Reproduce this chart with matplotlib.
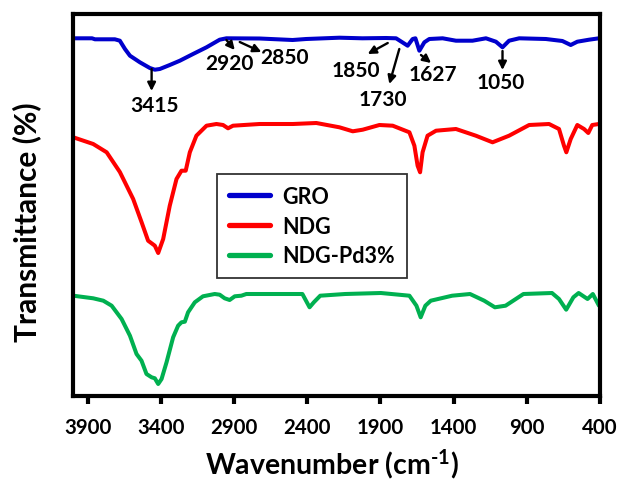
import numpy as np
import matplotlib
matplotlib.use("Agg")
import matplotlib.pyplot as plt

plt.rcParams["font.family"] = ["Lato", "DejaVu Sans"]
plt.rcParams["font.weight"] = "bold"
plt.rcParams["mathtext.fontset"] = "custom"
plt.rcParams["mathtext.rm"] = "Lato:bold"
plt.rcParams["mathtext.default"] = "rm"

# FTIR spectra, offset transmittance (arbitrary units)
gro_wn = [4000, 3870, 3850, 3714, 3680, 3645, 3611, 3543, 3475, 3441, 3407, 3339,
          3270, 3180, 3088, 2998, 2952, 2725, 2500, 2407, 2180, 2023, 1861, 1793,
          1714, 1680, 1661, 1634, 1600, 1566, 1475, 1384, 1271, 1179, 1111, 1066,
          1021, 952, 770, 657, 600, 555, 475, 407]
gro_t = [357.7, 357.7, 356.7, 356.7, 355.3, 347, 340.3, 333.7, 328, 326.3, 327, 331,
         335.3, 342, 348.7, 356.3, 357.7, 357.5, 356, 357, 358.3, 357.7, 358, 357.7,
         350.3, 357, 357.7, 345.3, 353.7, 357, 357.7, 355.3, 355.3, 357.7, 354.3, 348.7,
         355.3, 357.7, 357, 355, 351, 354.3, 356.3, 357.7]

ndg_wn = [3998, 3862, 3770, 3680, 3589, 3532, 3487, 3441, 3418, 3384, 3339, 3293,
          3259, 3230, 3202, 3157, 3088, 3020, 2975, 2941, 2907, 2725, 2498, 2338,
          2180, 2089, 2021, 1907, 1816, 1702, 1668, 1646, 1629, 1612, 1578, 1520,
          1384, 1248, 1134, 1021, 884, 748, 680, 646, 630, 600, 555, 509, 480, 453, 407]
ndg_t = [258.7, 252, 243.7, 224, 197, 174, 155.3, 150.3, 143, 157, 190.3, 217,
         225.3, 225.3, 243.7, 260.3, 270.3, 272, 271, 267.7, 270.3, 272, 272, 273,
         268.7, 264.7, 266.3, 271, 270.3, 263.7, 250.3, 230.3, 223.7, 243.7, 260.3, 265.3,
         267, 260.3, 253.7, 260.3, 271, 272, 267, 250.3, 243.7, 257, 271, 267, 263, 271, 272]

pd_wn = [3998, 3862, 3793, 3736, 3668, 3611, 3566, 3532, 3498, 3463, 3441, 3418,
         3395, 3361, 3316, 3282, 3259, 3236, 3214, 3168, 3112, 3032, 2998, 2964,
         2930, 2895, 2850, 2816, 2725, 2433, 2384, 2355, 2311, 2141, 1897, 1702,
         1654, 1625, 1593, 1556, 1410, 1288, 1191, 1118, 1045, 923, 728, 680, 631,
         582, 546, 485, 449, 407]
pd_t = [100.3, 97.7, 95.3, 90.3, 77, 60.3, 42, 35.3, 22, 18.7, 17.7, 12,
        17, 33.7, 58.7, 70.3, 73.7, 74.3, 83.7, 93.7, 99.7, 102, 101.3, 97.7,
        96, 99.7, 100.3, 102, 102, 102, 88.7, 93.7, 100.3, 102, 103, 100.3,
        90.3, 78.7, 90.3, 95.3, 100.3, 102, 95.3, 88.7, 90.3, 102, 103, 97, 86.3,
        98.7, 103, 97, 102, 90.3]

# peak labels on the GRO curve: text, arrow tail, arrow head, text position
peaks = ["3415", "2920", "2850", "1850", "1730", "1627", "1050"]
arrow_tail = [(3463, 327), (2952, 356), (2861, 354), (1850, 353), (1771, 347), (1623, 341), (1066, 345)]
arrow_head = [(3463, 305), (2895, 346), (2713, 344), (1987, 342), (1839, 312), (1554, 333), (1066, 326)]
label_pos = [(3441, 291), (2930, 333), (2555, 339), (2066, 326), (1884, 297), (1543, 322), (1077, 314)]

fig = plt.figure(figsize=(6.19, 4.81), dpi=100)
ax = fig.add_axes([73 / 619, 1 - 397 / 481, 527 / 619, 382 / 481])

lw = 2.9
ax.plot(gro_wn, gro_t, color="#0000CC", lw=lw, label="GRO", solid_capstyle="round")
ax.plot(ndg_wn, ndg_t, color="#FF0000", lw=lw, label="NDG", solid_capstyle="round")
ax.plot(pd_wn, pd_t, color="#00B050", lw=lw, label="NDG-Pd3%", solid_capstyle="round")

for txt, tail, head, pos in zip(peaks, arrow_tail, arrow_head, label_pos):
    ax.annotate("", xy=head, xytext=tail,
                arrowprops=dict(arrowstyle="-|>", color="black", lw=1.7,
                                mutation_scale=12, shrinkA=0, shrinkB=0))
    ax.text(pos[0], pos[1], txt, ha="center", va="center", fontsize=15, fontweight="bold")

ax.set_xlim(4000, 400)
ax.set_ylim(0, 382)
ax.set_xticks([3900, 3400, 2900, 2400, 1900, 1400, 900, 400])
ax.set_yticks([])
ax.tick_params(axis="x", direction="out", length=6, width=3, labelsize=14.7, pad=9)
for lab in ax.get_xticklabels():
    lab.set_fontweight("bold")
for sp in ax.spines.values():
    sp.set_linewidth(3)

ax.set_xlabel("Wavenumber (cm$^{\\text{-}1}$)", fontsize=20.5, fontweight="bold")
ax.xaxis.set_label_coords(0.491, -0.132)
ax.xaxis.label.set_va("top")
ax.set_ylabel("Transmittance (%)", fontsize=21.5, fontweight="bold")
ax.yaxis.set_label_coords(-0.06, 0.458)

leg = ax.legend(loc="upper left", bbox_to_anchor=(0.273, 0.581), borderaxespad=0,
                fontsize=15.5, frameon=True, fancybox=False, edgecolor="black",
                handlelength=1.9, handletextpad=0.6, labelspacing=0.4, borderpad=0.55)
leg.get_frame().set_linewidth(1.3)
for line in leg.get_lines():
    line.set_linewidth(3.8)
for t in leg.get_texts():
    t.set_fontweight("bold")

fig.savefig("out.png", dpi=100)
